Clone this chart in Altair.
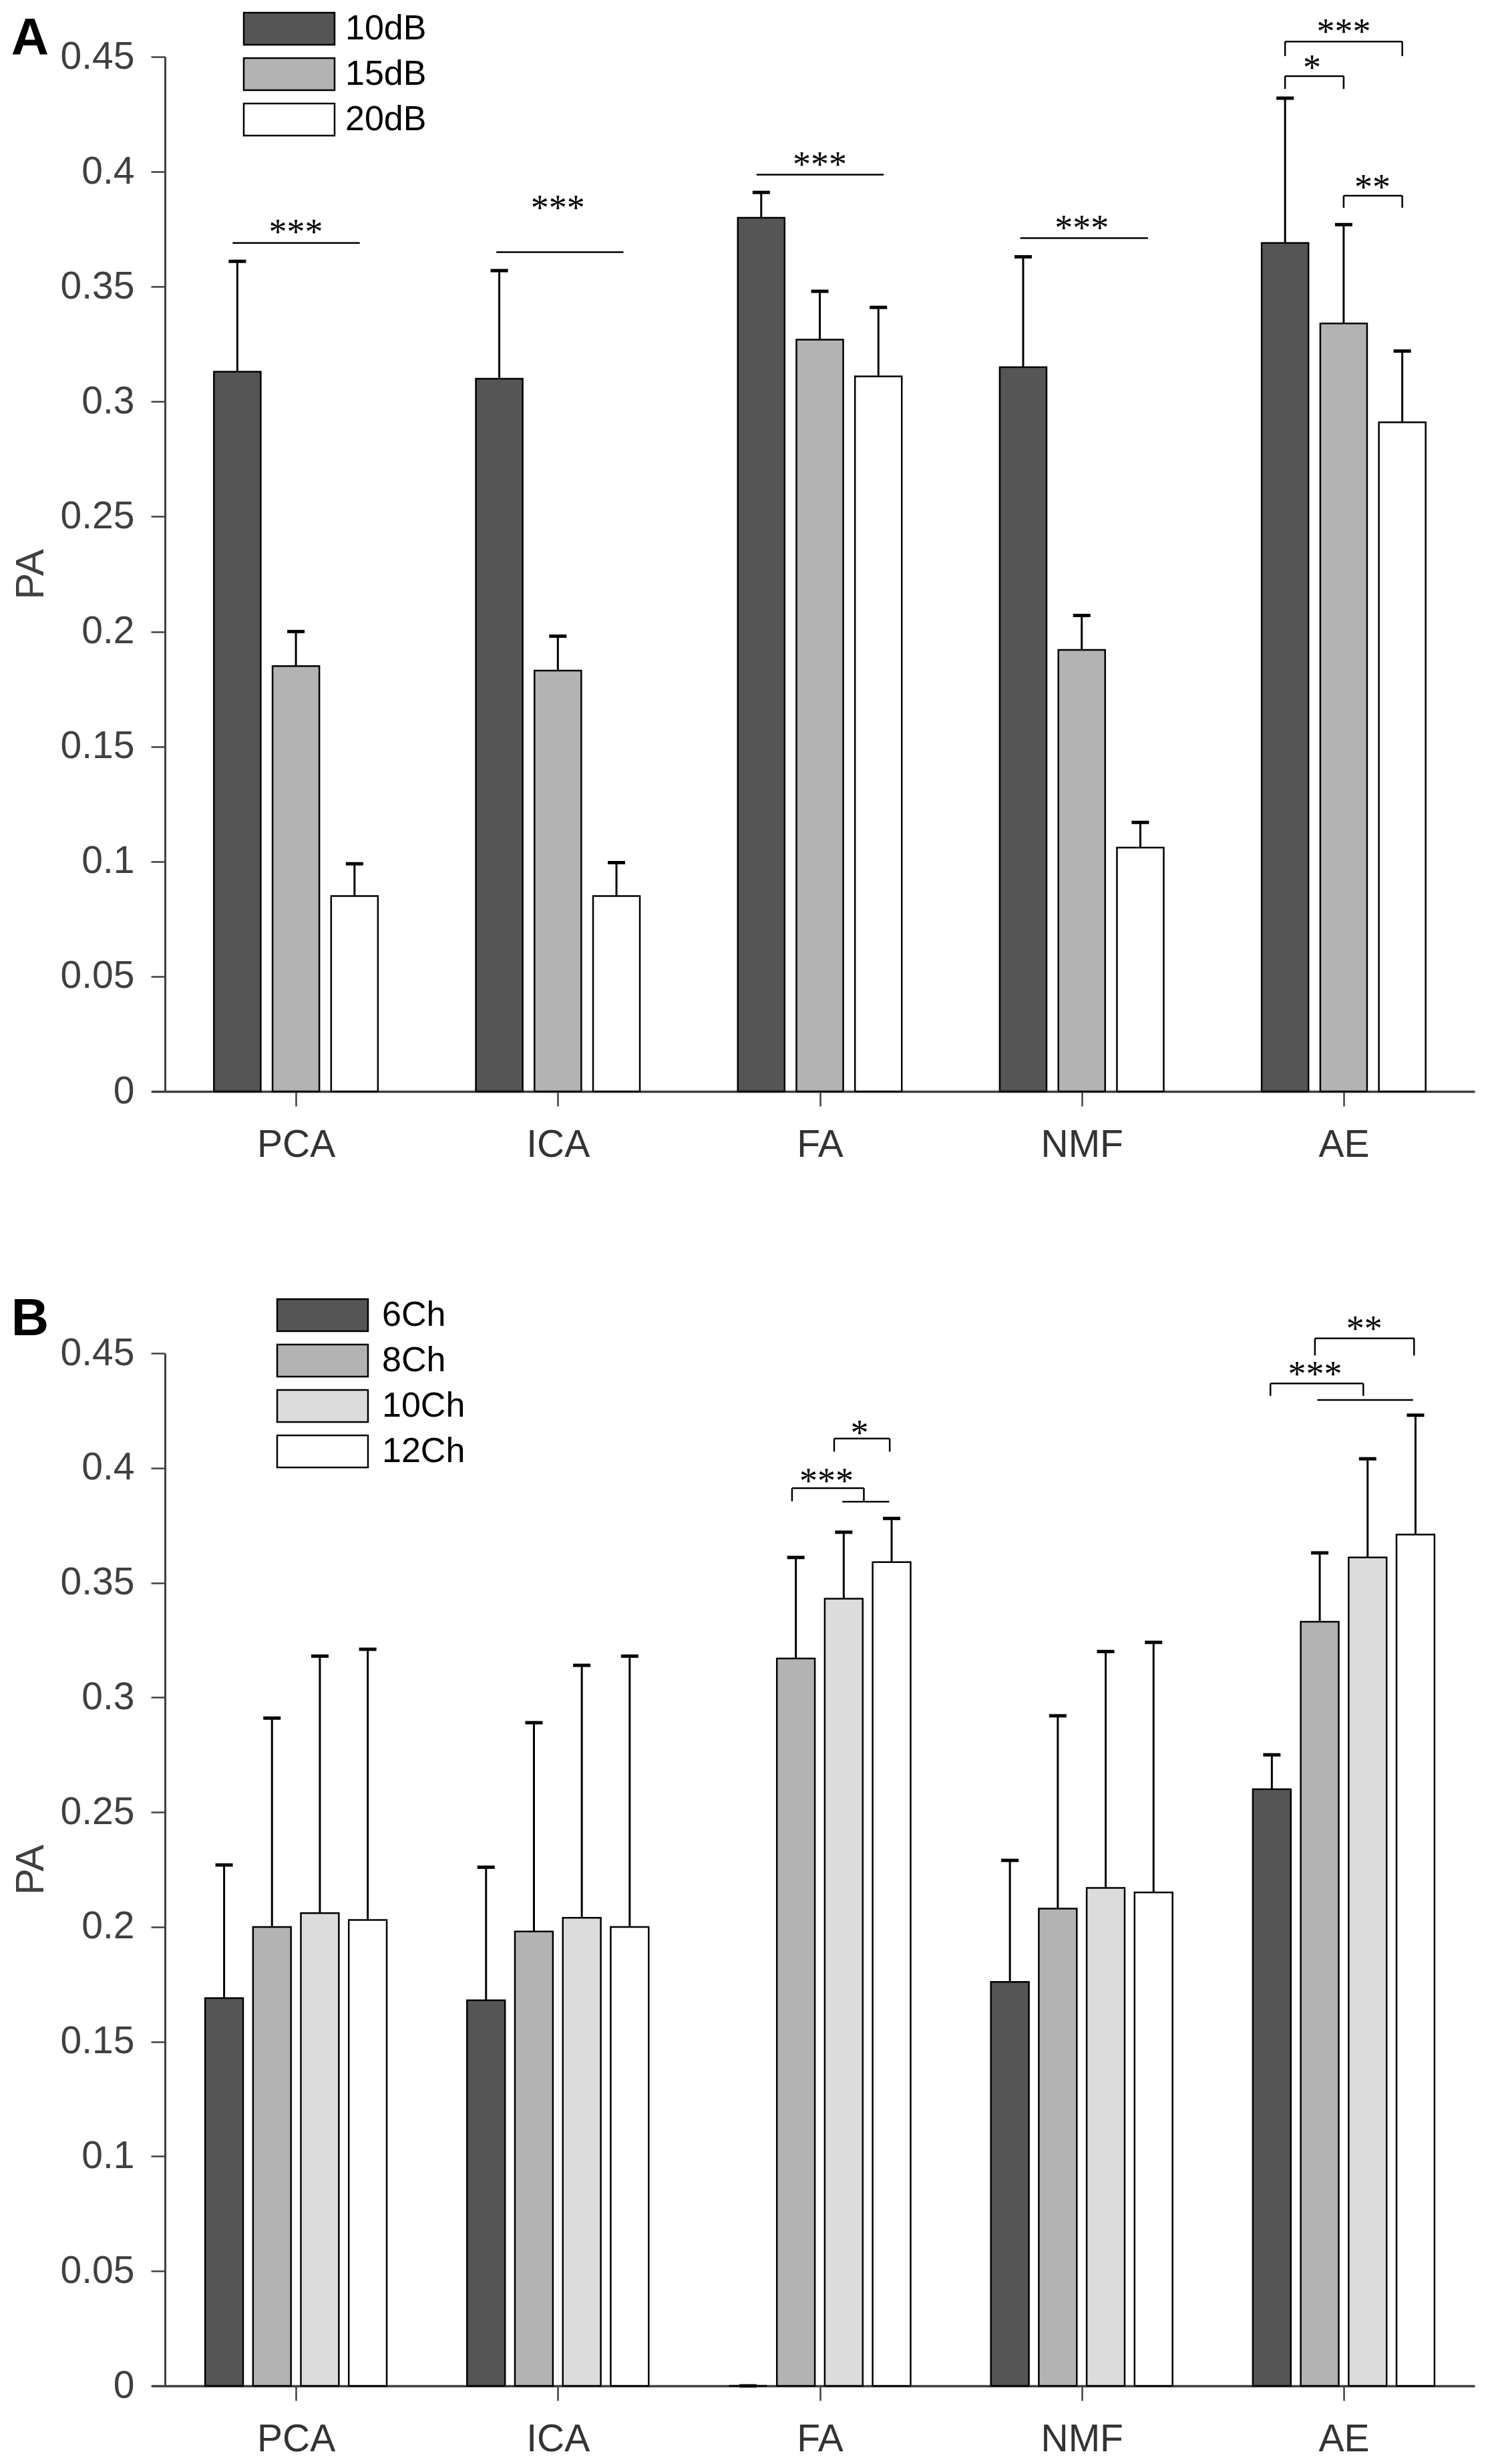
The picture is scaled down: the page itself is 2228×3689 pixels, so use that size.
import altair as alt
import pandas as pd

FONT = "Liberation Sans, Arial, Helvetica, sans-serif"
SERIF = "Liberation Serif, Times New Roman, serif"
AXIS_GRAY = "#404040"

# ---------------- data ----------------
categories = ["PCA", "ICA", "FA", "NMF", "AE"]
y_ticks = [0, 0.05, 0.1, 0.15, 0.2, 0.25, 0.3, 0.35, 0.4, 0.45]

# Panel A: noise level
snr_levels = ["10dB", "15dB", "20dB"]
snr_colors = ["#555555", "#b3b3b3", "#ffffff"]
pa_10db = [0.313, 0.310, 0.380, 0.315, 0.369]
pa_15db = [0.185, 0.183, 0.327, 0.192, 0.334]
pa_20db = [0.085, 0.085, 0.311, 0.106, 0.291]
sd_10db = [0.048, 0.047, 0.011, 0.048, 0.063]
sd_15db = [0.015, 0.015, 0.021, 0.015, 0.043]
sd_20db = [0.014, 0.0145, 0.030, 0.011, 0.031]

# Panel B: number of channels
ch_levels = ["6Ch", "8Ch", "10Ch", "12Ch"]
ch_colors = ["#555555", "#b3b3b3", "#dcdcdc", "#ffffff"]
pa_6ch = [0.169, 0.168, 0.0, 0.176, 0.260]
pa_8ch = [0.200, 0.198, 0.317, 0.208, 0.333]
pa_10ch = [0.206, 0.204, 0.343, 0.217, 0.361]
pa_12ch = [0.203, 0.200, 0.359, 0.215, 0.371]
sd_6ch = [0.058, 0.058, 0.0, 0.053, 0.015]
sd_8ch = [0.091, 0.091, 0.044, 0.084, 0.030]
sd_10ch = [0.112, 0.110, 0.029, 0.103, 0.043]
sd_12ch = [0.118, 0.118, 0.019, 0.109, 0.052]

# significance brackets: (method, from series pos, to series pos, top, leg bottom or None)
sig_a_brackets = [
    ("PCA", -0.08, 2.09, 0.369, None),
    ("ICA", -0.05, 2.12, 0.365, None),
    ("FA", -0.08, 2.09, 0.3987, None),
    ("NMF", -0.05, 2.13, 0.3711, None),
    ("AE", 0.0, 2.0, 0.4566, 0.4503),
    ("AE", 0.0, 1.0, 0.4416, 0.4360),
    ("AE", 1.0, 2.0, 0.3896, 0.3843),
]
sig_a_labels = [
    ("PCA", 1.0, 0.376, "***"),
    ("ICA", 1.0, 0.3863, "***"),
    ("FA", 1.0, 0.4053, "***"),
    ("NMF", 1.0, 0.3777, "***"),
    ("AE", 1.0, 0.4631, "***"),
    ("AE", 0.46, 0.4475, "*"),
    ("AE", 1.49, 0.3953, "**"),
]
sig_b_brackets = [
    ("FA", 0.92, 2.42, 0.3912, 0.3855),
    ("FA", 1.97, 2.95, 0.3853, None),
    ("FA", 1.80, 2.96, 0.4128, 0.4071),
    ("AE", 0.90, 2.97, 0.4565, 0.4490),
    ("AE", -0.03, 1.91, 0.4368, 0.4314),
    ("AE", 0.95, 2.95, 0.4296, None),
]
sig_b_labels = [
    ("FA", 1.64, 0.3963, "***"),
    ("FA", 2.33, 0.4174, "*"),
    ("AE", 1.93, 0.4627, "**"),
    ("AE", 0.90, 0.4430, "***"),
]

# ---------------- helpers ----------------
def pos(cat, p, n, step):
    return categories.index(cat) + 0.5 + (p - (n - 1) / 2.0) * step


def bar_frame(series, means, sds, bar_w, step):
    rows = []
    n = len(series)
    for j, s in enumerate(series):
        for i, c in enumerate(categories):
            xc = pos(c, j, n, step)
            rows.append(dict(category=c, series=s, mean=means[j][i],
                             upper=means[j][i] + sds[j][i], xc=xc,
                             x0=xc - bar_w / 2, x1=xc + bar_w / 2, base=0.0))
    return pd.DataFrame(rows)


def line_frame(brackets, n, step):
    rows = []
    for cat, p1, p2, top, leg in brackets:
        xa, xb = pos(cat, p1, n, step), pos(cat, p2, n, step)
        rows.append(dict(x=xa, x2=xb, y=top, y2=top))
        if leg is not None:
            rows.append(dict(x=xa, x2=xa, y=leg, y2=top))
            rows.append(dict(x=xb, x2=xb, y=leg, y2=top))
    return pd.DataFrame(rows)


def text_frame(labels, n, step):
    return pd.DataFrame([dict(x=pos(c, p, n, step), y=y, label=t) for c, p, y, t in labels])


X_MIN = -0.051
label_expr = "[" + ",".join("'%s'" % c for c in categories) + "][floor(datum.value)]"

# legend box: 136 x 48 px drawn from a symbol whose nominal size is 48 px
RECT_PATH = "M-2.833,-1H2.833V1H-2.833Z"


def panel(letter, series, colors, df_bars, df_lines, df_text, width, height,
          legend_x, legend_y, label_offset, letter_x, letter_y):
    xs = alt.Scale(domain=[X_MIN, 5], nice=False, zero=False)
    ys = alt.Scale(domain=[0, 0.45], nice=False, zero=True)
    x_axis = alt.Axis(values=[i + 0.5 for i in range(len(categories))], labelExpr=label_expr,
                      title=None, grid=False, tickSize=22, tickWidth=2.5, tickColor=AXIS_GRAY,
                      domainColor=AXIS_GRAY, domainWidth=3.5, labelFont=FONT, labelFontSize=57,
                      labelColor="#333333", labelPadding=30, labelFlush=False, labelOverlap=False)
    y_axis = alt.Axis(values=y_ticks, format="~g", title="PA", offset=-20, grid=False,
                      tickSize=21, tickWidth=2.5, tickColor=AXIS_GRAY, domainColor=AXIS_GRAY,
                      domainWidth=3, labelFont=FONT, labelFontSize=57, labelColor=AXIS_GRAY,
                      labelPadding=25, titleFont=FONT, titleFontSize=60, titleFontWeight="normal",
                      titleColor=AXIS_GRAY, titlePadding=13)
    legend = alt.Legend(orient="none", legendX=legend_x, legendY=legend_y, title=None,
                        direction="vertical", symbolType=RECT_PATH,
                        symbolSize=2304, symbolStrokeColor="black", symbolStrokeWidth=2.5,
                        symbolOpacity=1, labelFont=FONT, labelFontSize=52, labelColor="black",
                        labelOffset=label_offset, rowPadding=10, padding=0)
    X = lambda f: alt.X(f, scale=xs, axis=x_axis)
    Y = lambda f: alt.Y(f, scale=ys, axis=y_axis)
    bars = alt.Chart(df_bars).mark_bar(stroke="black", strokeWidth=2.5, opacity=1).encode(
        x=X("x0:Q"), x2="x1:Q", y=Y("mean:Q"), y2="base:Q",
        fill=alt.Fill("series:N", scale=alt.Scale(domain=series, range=colors), legend=legend),
    )
    stems = alt.Chart(df_bars).mark_rule(color="black", strokeWidth=3).encode(
        x=X("xc:Q"), y=Y("mean:Q"), y2="upper:Q",
    )
    caps = alt.Chart(df_bars).mark_tick(color="black", orient="horizontal", thickness=5,
                                        size=26, opacity=1).encode(
        x=X("xc:Q"), y=Y("upper:Q"),
    )
    lines = alt.Chart(df_lines).mark_rule(color="black", strokeWidth=2.5).encode(
        x=X("x:Q"), x2="x2:Q", y=Y("y:Q"), y2="y2:Q",
    )
    stars = alt.Chart(df_text).mark_text(font=SERIF, fontSize=54, align="center",
                                         baseline="middle", dy=9, color="black").encode(
        x=X("x:Q"), y=Y("y:Q"), text="label:N",
    )
    tag = alt.Chart(pd.DataFrame({"letter": [letter]})).mark_text(
        font=FONT, fontWeight="bold", fontSize=78, align="center", baseline="alphabetic",
        color="black").encode(text="letter:N", x=alt.value(letter_x), y=alt.value(letter_y))
    return alt.layer(bars, stems, caps, lines, stars, tag).properties(width=width, height=height)


step_a, bw_a = 0.2237, 0.1786
step_b, bw_b = 0.1828, 0.145

df_a = bar_frame(snr_levels, [pa_10db, pa_15db, pa_20db], [sd_10db, sd_15db, sd_20db], bw_a, step_a)
df_b = bar_frame(ch_levels, [pa_6ch, pa_8ch, pa_10ch, pa_12ch],
                 [sd_6ch, sd_8ch, sd_10ch, sd_12ch], bw_b, step_b)

panel_a = panel("A", snr_levels, snr_colors, df_a,
                line_frame(sig_a_brackets, 3, step_a), text_frame(sig_a_labels, 3, step_a),
                1981, 1549, 180, -68, 58, -182, -3)
panel_b = panel("B", ch_levels, ch_colors, df_b,
                line_frame(sig_b_brackets, 4, step_b), text_frame(sig_b_labels, 4, step_b),
                1981, 1546, 230, -83, 63, -182, -27)

chart = alt.vconcat(panel_a, panel_b, spacing=195).resolve_scale(fill="independent").properties(
    padding={"left": 8, "top": 9, "right": 5, "bottom": 0}
).configure(font=FONT, background="white").configure_view(stroke=None)

chart.save("out.html", embed_options={"renderer": "svg", "actions": False})
